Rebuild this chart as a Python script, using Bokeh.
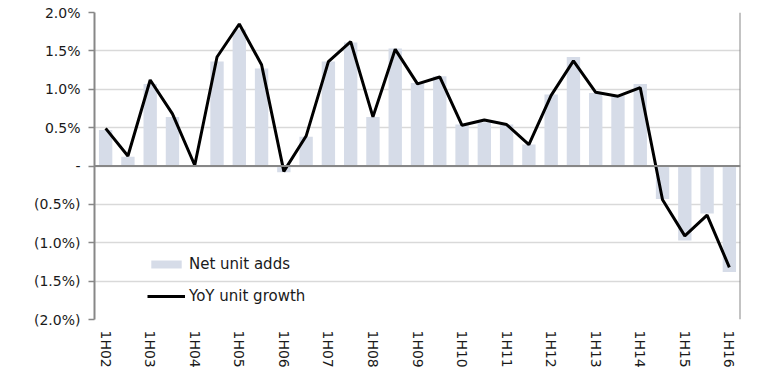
from bokeh.plotting import figure
from bokeh.models import Range1d, FixedTicker, CustomJSTickFormatter, Span, Legend, LegendItem, ColumnDataSource
from bokeh.embed import file_html
from bokeh.resources import INLINE

periods = ["1H02", "2H02", "1H03", "2H03", "1H04", "2H04", "1H05", "2H05", "1H06", "2H06",
           "1H07", "2H07", "1H08", "2H08", "1H09", "2H09", "1H10", "2H10", "1H11", "2H11",
           "1H12", "2H12", "1H13", "2H13", "1H14", "2H14", "1H15", "2H15", "1H16"]
net_unit_adds = [0.47, 0.12, 1.07, 0.64, 0.01, 1.36, 1.78, 1.27, -0.08, 0.38,
                 1.36, 1.61, 0.64, 1.53, 1.08, 1.17, 0.54, 0.57, 0.54, 0.28,
                 0.93, 1.42, 0.95, 0.92, 1.07, -0.43, -0.97, -0.62, -1.38]
yoy_unit_growth = [0.49, 0.13, 1.12, 0.68, 0.01, 1.42, 1.85, 1.32, -0.07, 0.39,
                   1.36, 1.62, 0.64, 1.52, 1.07, 1.16, 0.53, 0.60, 0.54, 0.28,
                   0.92, 1.37, 0.96, 0.91, 1.02, -0.44, -0.91, -0.64, -1.32]
y_ticks = [-2.0, -1.5, -1.0, -0.5, 0.0, 0.5, 1.0, 1.5, 2.0]

FONT = "DejaVu Sans"
TXT = "#1a1a1a"
GRAY = "#878787"

idx = list(range(len(periods)))
src = ColumnDataSource(dict(x=idx, adds=net_unit_adds, yoy=yoy_unit_growth))

p = figure(output_backend="svg", toolbar_location=None,
           frame_width=646, frame_height=307,
           min_border_left=94, min_border_top=12, min_border_right=20, min_border_bottom=36,
           x_range=Range1d(-0.5, len(periods) - 0.5), y_range=Range1d(-2.0, 2.0))
p.outline_line_color = None
p.background_fill_color = "white"

bars = p.vbar(x="x", top="adds", bottom=0, width=0.6, source=src,
              fill_color="#D6DCE8", line_color=None)
ln = p.line(x="x", y="yoy", source=src, line_color="black", line_width=3)

p.add_layout(Span(location=0, dimension="width", line_color=GRAY, line_width=2))
p.add_layout(Span(location=len(periods) - 0.5, dimension="height", line_color=GRAY, line_width=2))

# y axis
p.yaxis.ticker = FixedTicker(ticks=y_ticks)
p.yaxis.formatter = CustomJSTickFormatter(code="""
if (Math.abs(tick) < 1e-9) return "-";
if (tick < 0) return "(" + (-tick).toFixed(1) + "%)";
return tick.toFixed(1) + "%";
""")
p.yaxis.axis_line_color = GRAY
p.yaxis.axis_line_width = 2
p.yaxis.major_tick_line_color = GRAY
p.yaxis.major_tick_line_width = 1.5
p.yaxis.major_tick_in = 0
p.yaxis.major_tick_out = 6
p.yaxis.minor_tick_line_color = None
p.yaxis.major_label_text_font = FONT
p.yaxis.major_label_text_font_size = "14px"
p.yaxis.major_label_text_color = TXT
p.yaxis.major_label_standoff = 8

p.ygrid.ticker = FixedTicker(ticks=y_ticks)
p.ygrid.grid_line_color = "#D9D9D9"
p.ygrid.grid_line_width = 1.5
p.xgrid.grid_line_color = None

# x axis
p.xaxis.ticker = FixedTicker(ticks=idx[::2])
p.xaxis.major_label_overrides = {i: periods[i] for i in idx}
p.xaxis.axis_line_color = None
p.xaxis.major_tick_line_color = None
p.xaxis.minor_tick_line_color = None
p.xaxis.major_label_orientation = "vertical"
p.xaxis.major_label_text_font = FONT
p.xaxis.major_label_text_font_size = "14px"
p.xaxis.major_label_text_color = TXT
p.xaxis.major_label_standoff = 5

legend = Legend(items=[LegendItem(label="Net unit adds", renderers=[bars]),
                       LegendItem(label="YoY unit growth", renderers=[ln])],
                location=(53, 13), orientation="vertical",
                background_fill_alpha=0, border_line_color=None,
                padding=0, margin=0, spacing=12,
                label_height=20, glyph_height=10, glyph_width=38, label_standoff=4,
                label_text_font=FONT, label_text_font_size="15px", label_text_color=TXT)
p.add_layout(legend)

open("out.html", "w").write(file_html(p, INLINE))
